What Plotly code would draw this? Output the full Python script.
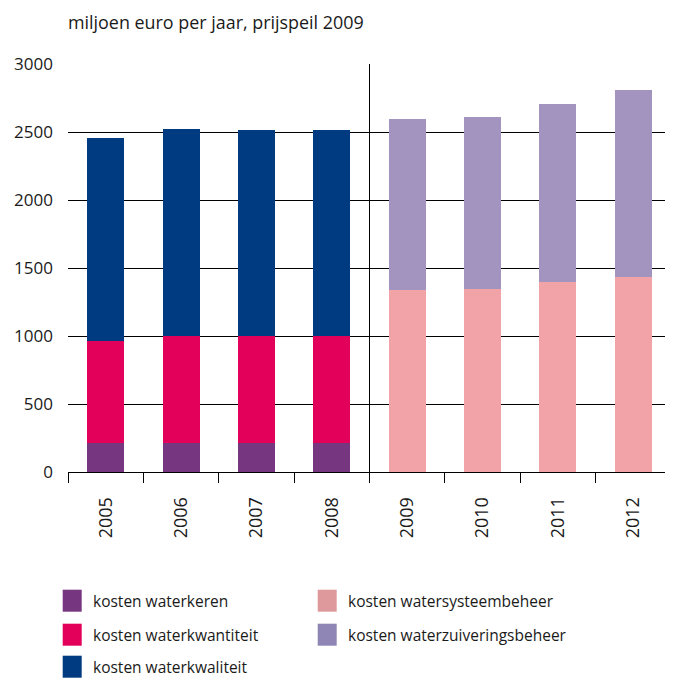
import plotly.graph_objects as go

years = ["2005", "2006", "2007", "2008", "2009", "2010", "2011", "2012"]
waterkeren = [210, 210, 210, 210, None, None, None, None]
waterkwantiteit = [750, 790, 790, 790, None, None, None, None]
waterkwaliteit = [1498, 1524, 1512, 1512, None, None, None, None]
watersysteembeheer = [None, None, None, None, 1340, 1348, 1400, 1436]
waterzuivering = [None, None, None, None, 1258, 1264, 1308, 1375]

names = ["kosten waterkeren", "kosten waterkwantiteit", "kosten waterkwaliteit",
         "kosten watersysteembeheer", "kosten waterzuiveringsbeheer"]
colors = ["#763780", "#e2005a", "#003a80", "#f2a3a8", "#a393bf"]
legend_colors = ["#763780", "#e2005a", "#003a80", "#dd999c", "#8f86b5"]
series = [waterkeren, waterkwantiteit, waterkwaliteit, watersysteembeheer, waterzuivering]

FONT = "Open Sans"
TXT = "#1a1a1a"

fig = go.Figure()
for nm, vals, col in zip(names, series, colors):
    fig.add_trace(go.Bar(x=years, y=vals, name=nm, marker=dict(color=col, line=dict(width=0)),
                         width=0.49, showlegend=False))

# page body has an 8px margin: figure is sized/offset to compensate
fig.update_layout(
    barmode="stack",
    width=665, height=671,
    margin=dict(l=60, r=2, t=56, b=207),
    paper_bgcolor="white", plot_bgcolor="white",
    font=dict(family=FONT, size=16, color=TXT),
    xaxis=dict(type="category", showgrid=False, showline=True, linecolor="black", linewidth=1,
               ticks="outside", tickson="boundaries", ticklen=10, tickcolor="black", tickwidth=1,
               tickangle=-90, tickfont=dict(size=18, family=FONT, color=TXT), ticklabelstandoff=17,
               range=[-0.5, 7.5]),
    yaxis=dict(range=[0, 3000], tickvals=[0, 500, 1000, 1500, 2000, 2500, 3000],
               showgrid=True, gridcolor="black", gridwidth=1, zeroline=False,
               showline=False, tickfont=dict(size=17, family=FONT, color=TXT), ticklabelstandoff=14),
)

# separator between realised and projected years
fig.add_shape(type="line", xref="x", yref="paper", x0=3.5, x1=3.5, y0=-10/408, y1=1,
              line=dict(color="black", width=1))

# title
fig.add_annotation(text="miljoen euro per jaar, prijspeil 2009", xref="paper", yref="paper",
                   x=-0.003, y=1 + 42/408, xanchor="left", yanchor="middle", showarrow=False,
                   font=dict(size=17.9, family=FONT, color=TXT))

# manual legend (page pixel coordinates converted to paper coordinates)
H = 408.0
W = 603.0
def py(p):
    return (472.3 - p) / H
def px(p):
    return (p - 68.3) / W

positions = [(63, 601), (63, 635), (63, 667), (318, 601), (318, 635)]
for nm, col, (lx, ly) in zip(names, legend_colors, positions):
    fig.add_shape(type="rect", xref="paper", yref="paper",
                  x0=px(lx), x1=px(lx + 19), y0=py(ly - 11), y1=py(ly + 11),
                  fillcolor=col, line=dict(width=0))
    fig.add_annotation(text=nm, xref="paper", yref="paper", x=px(lx + 29), y=py(ly),
                       xanchor="left", yanchor="middle", showarrow=False, borderpad=0,
                       font=dict(size=15.5, family=FONT, color=TXT))

fig.write_html("out.html")
